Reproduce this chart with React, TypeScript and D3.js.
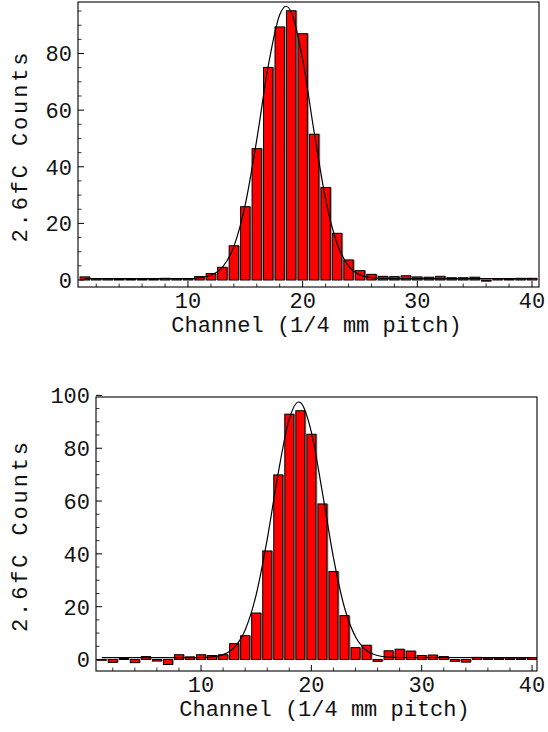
import React from 'react';
import * as d3 from 'd3';

const channels = [1,2,3,4,5,6,7,8,9,10,11,12,13,14,15,16,17,18,19,20,21,22,23,24,25,26,27,28,29,30,31,32,33,34,35,36,37,38,39,40];

const topCounts = [1.1,0.5,0.5,0.3,0.3,0.3,0.4,0.6,0.5,0.5,1.2,2.3,4.5,12.1,25.9,46.4,75.1,89.4,95.1,87.0,51.5,32.7,16.5,7.1,3.3,2.0,1.3,1.2,1.5,1.1,1.0,1.3,0.8,0.8,1.0,-0.4,0.5,0.4,0.6,0.6];

const bottomCounts = [-0.3,-1.1,0.4,-1.2,1.1,-0.6,-1.9,1.8,1.0,1.8,1.5,1.8,6.0,9.0,17.6,41.1,69.9,92.9,94.2,85.3,58.9,33.3,16.6,4.5,5.4,-0.7,3.3,3.9,3.2,1.5,1.7,1.1,-0.7,-1.0,0.8,0.5,0.5,0.5,0.5,0.7];

const topFitX = [1,10,11,12,13,14,15,16,17,18,18.55,19,20,21,22,23,24,25,26,27,28,40];
const topFitY = [0.5,0.5,0.8,1.7,4.5,11.8,26.7,49.6,75.6,93.7,96.7,94.7,77.9,52.3,28.6,12.9,5.0,1.8,0.8,0.55,0.5,0.5];

const bottomFitX = [1,9,10,11,12,13,14,15,16,17,18,18.85,19,20,21,22,23,24,25,26,27,28,40];
const bottomFitY = [0.7,0.7,0.75,1.0,1.85,4.5,11.2,24.6,45.6,70.7,91.1,97.5,97.3,86.1,63.2,38.6,19.7,8.6,3.4,1.5,0.9,0.75,0.7];

const xMajorTicks = [10,20,30,40];
const xMinorTicks = [2,4,6,8,12,14,16,18,22,24,26,28,32,34,36,38];
const topYMajor = [0,20,40,60,80];
const topYMinor = [5,10,15,25,30,35,45,50,55,65,70,75,85,90,95];
const bottomYMajor = [0,20,40,60,80,100];
const bottomYMinor = [5,10,15,25,30,35,45,50,55,65,70,75,85,90,95];

const xLabel = 'Channel (1/4 mm pitch)';
const yLabel = '2.6fC Counts';

const FONT = '"Liberation Mono", "DejaVu Sans Mono", monospace';

type ChartProps = {
  counts: number[];
  fitX: number[];
  fitY: number[];
  frame: { left: number; right: number; top: number; bottom: number };
  xDomain: [number, number];
  yDomain: [number, number];
  yMajor: number[];
  yMinor: number[];
};

function Chart({ counts, fitX, fitY, frame, xDomain, yDomain, yMajor, yMinor }: ChartProps) {
  const x = d3.scaleLinear().domain(xDomain).range([frame.left, frame.right]);
  const y = d3.scaleLinear().domain(yDomain).range([frame.bottom, frame.top]);
  const half = 0.41;
  const line = d3
    .line<number>()
    .x((_, i) => x(fitX[i]))
    .y((d) => y(d))
    .curve(d3.curveMonotoneX);
  const midY = (frame.top + frame.bottom) / 2 + 3;
  const midX = (frame.left + frame.right) / 2;
  return (
    <g>
      <defs>
        <clipPath id={`clip-${frame.top}`}>
          <rect x={frame.left} y={frame.top} width={frame.right - frame.left} height={frame.bottom - frame.top} />
        </clipPath>
      </defs>
      <g clipPath={`url(#clip-${frame.top})`}>
        {channels.map((c, i) => {
          const v = counts[i];
          const x0 = x(c - half);
          const x1 = x(c + half);
          const yTop = Math.min(y(v), y(0));
          const h = Math.max(Math.abs(y(v) - y(0)), 0.5);
          return (
            <g key={c}>
              <rect x={x0 + 1.4} y={yTop} width={x1 - x0} height={h} fill="#8a8a8a" />
              <rect x={x0} y={yTop} width={x1 - x0} height={h} fill="#ff0000" stroke="#000" strokeWidth={1} />
            </g>
          );
        })}
        <path d={line(fitY) || ''} fill="none" stroke="#000" strokeWidth={1.2} />
      </g>
      <rect
        x={frame.left}
        y={frame.top}
        width={frame.right - frame.left}
        height={frame.bottom - frame.top}
        fill="none"
        stroke="#000"
        strokeWidth={1.1}
      />
      {xMajorTicks.map((t) => (
        <g key={`xm${t}`}>
          <line x1={x(t)} x2={x(t)} y1={frame.bottom} y2={frame.bottom - 6} stroke="#000" strokeWidth={1} />
          <text x={x(t)} y={frame.bottom + 21} textAnchor="middle" fontFamily={FONT} fontSize={22} fill="#111">
            {t}
          </text>
        </g>
      ))}
      {xMinorTicks.map((t) => (
        <line key={`xn${t}`} x1={x(t)} x2={x(t)} y1={frame.bottom} y2={frame.bottom - 3.5} stroke="#000" strokeWidth={0.8} />
      ))}
      {yMajor.map((t) => (
        <g key={`ym${t}`}>
          <line x1={frame.left} x2={frame.left + 6} y1={y(t)} y2={y(t)} stroke="#000" strokeWidth={1} />
          <text x={frame.left - 6} y={y(t)} dy="0.36em" textAnchor="end" fontFamily={FONT} fontSize={22} fill="#111">
            {t}
          </text>
        </g>
      ))}
      {yMinor
        .filter((t) => t >= yDomain[0] && t <= yDomain[1])
        .map((t) => (
          <line key={`yn${t}`} x1={frame.left} x2={frame.left + 3.5} y1={y(t)} y2={y(t)} stroke="#000" strokeWidth={0.8} />
        ))}
      <text x={midX + 8} y={frame.bottom + 45} textAnchor="middle" fontFamily={FONT} fontSize={22} fill="#111">
        {xLabel}
      </text>
      <text
        transform={`translate(27,${midY}) rotate(-90)`}
        textAnchor="middle"
        fontFamily={FONT}
        fontSize={22}
        textLength={190}
        lengthAdjust="spacing"
        fill="#111"
      >
        {yLabel}
      </text>
    </g>
  );
}

export default function App() {
  return (
    <svg
      width={548}
      height={732}
      style={{ position: 'absolute', left: 0, top: 0, background: '#fff' }}
    >
      <rect x={0} y={0} width={548} height={732} fill="#fff" />
      <Chart
        counts={topCounts}
        fitX={topFitX}
        fitY={topFitY}
        frame={{ left: 78, right: 539, top: 2, bottom: 287 }}
        xDomain={[0.41, 40.61]}
        yDomain={[-2.47, 98.2]}
        yMajor={topYMajor}
        yMinor={topYMinor}
      />
      <Chart
        counts={bottomCounts}
        fitX={bottomFitX}
        fitY={bottomFitY}
        frame={{ left: 96, right: 537, top: 397, bottom: 671 }}
        xDomain={[0.48, 40.45]}
        yDomain={[-4.36, 99.4]}
        yMajor={bottomYMajor}
        yMinor={bottomYMinor}
      />
    </svg>
  );
}
